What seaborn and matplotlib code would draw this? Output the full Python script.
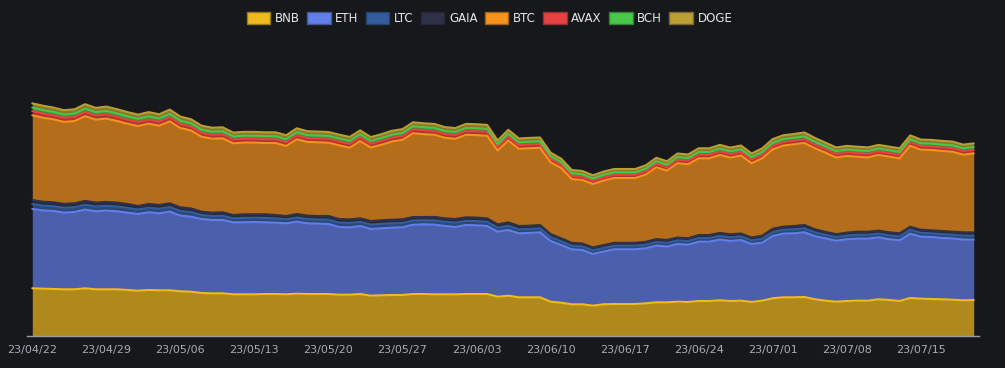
import matplotlib
matplotlib.use("Agg")
import numpy as np
import pandas as pd
import matplotlib.pyplot as plt
import seaborn as sns
from matplotlib.patches import Patch
from matplotlib.colors import to_rgb

# daily values, 2023-04-22 .. 2023-07-20 (arbitrary units)
dates = pd.date_range("2023-04-22", "2023-07-20", freq="D")

bnb = [47.2, 46.8, 46.5, 46.2, 46.2, 47.2, 46.2, 46.2, 46.2, 45.5, 44.8, 45.5, 45.2, 45.2, 44.2,
       43.8, 42.5, 42.2, 42.2, 41.2, 41.2, 41.2, 41.5, 41.5, 41.2, 41.8, 41.5, 41.5, 41.5, 40.8,
       40.8, 41.5, 39.8, 40.2, 40.5, 40.5, 41.5, 41.5, 41.2, 41.2, 41.2, 41.5, 41.5, 41.5, 38.8,
       39.8, 38.2, 38.2, 38.2, 33.8, 32.8, 31.2, 31.2, 29.8, 31.2, 31.5, 31.5, 31.5, 32.2, 33.2,
       33.2, 33.8, 33.5, 34.5, 34.5, 35.2, 34.5, 34.8, 33.5, 34.8, 37.2, 38.2, 38.2, 38.5, 36.2,
       34.8, 33.8, 34.5, 34.8, 34.8, 36.2, 35.5, 34.5, 37.5, 36.8, 36.5, 36.2, 35.8, 35.2, 35.5]

eth = [79.3, 78.3, 78.0, 76.7, 77.3, 78.7, 78.0, 78.7, 78.0, 77.3, 76.7, 77.7, 77.0, 78.7, 75.7,
       75.0, 74.0, 73.3, 73.3, 72.0, 72.0, 72.3, 71.7, 71.3, 71.0, 72.0, 70.7, 70.3, 70.0, 67.7,
       67.3, 68.0, 66.7, 67.0, 67.3, 67.7, 69.3, 69.7, 69.7, 68.3, 67.3, 69.0, 68.7, 68.0, 65.0,
       65.7, 64.0, 64.3, 65.0, 60.7, 57.7, 55.0, 54.3, 51.7, 52.7, 54.7, 54.7, 54.7, 55.0, 56.7,
       55.7, 57.7, 57.3, 59.3, 59.3, 60.7, 60.0, 60.7, 58.0, 58.0, 62.3, 63.7, 64.0, 64.7, 63.0,
       62.3, 61.0, 61.7, 62.0, 62.0, 62.0, 60.7, 60.7, 64.3, 62.0, 62.0, 61.3, 61.3, 60.7, 60.3]

ltc = [5.0, 4.8, 4.8, 4.8, 4.8, 4.8, 4.8, 4.8, 4.8, 4.8, 4.4, 4.6, 4.6, 4.6, 4.6,
       4.6, 4.0, 4.0, 4.2, 4.0, 4.4, 4.2, 4.4, 4.2, 4.0, 4.2, 4.2, 4.2, 4.4, 4.4,
       4.4, 4.2, 4.4, 4.4, 4.4, 4.4, 4.2, 4.0, 4.2, 4.2, 4.4, 4.2, 4.2, 4.2, 4.0,
       4.2, 4.0, 4.0, 4.0, 3.9, 3.7, 3.6, 3.6, 3.6, 3.6, 3.6, 3.6, 3.6, 3.6, 3.6,
       3.7, 3.6, 3.6, 3.7, 3.7, 3.7, 3.7, 3.6, 3.6, 3.9, 4.0, 3.9, 4.0, 4.0, 3.9,
       3.6, 3.6, 3.7, 3.9, 3.9, 3.7, 3.9, 3.9, 3.9, 3.9, 3.7, 3.9, 3.7, 4.0, 4.0]

gaia = [4.0, 3.9, 3.9, 3.9, 3.9, 3.9, 3.9, 3.9, 3.9, 3.9, 3.6, 3.7, 3.7, 3.7, 3.7,
        3.7, 3.3, 3.3, 3.5, 3.3, 3.6, 3.5, 3.6, 3.5, 3.3, 3.5, 3.5, 3.5, 3.6, 3.6,
        3.6, 3.5, 3.6, 3.6, 3.6, 3.6, 3.5, 3.3, 3.5, 3.5, 3.6, 3.5, 3.5, 3.5, 3.3,
        3.5, 3.3, 3.3, 3.3, 3.1, 3.0, 2.9, 2.9, 2.9, 2.9, 2.9, 2.9, 2.9, 2.9, 2.9,
        3.0, 2.9, 2.9, 3.0, 3.0, 3.0, 3.0, 2.9, 2.9, 3.1, 3.3, 3.1, 3.3, 3.3, 3.1,
        2.9, 2.9, 3.0, 3.1, 3.1, 3.0, 3.1, 3.1, 3.1, 3.1, 3.0, 3.1, 3.0, 3.3, 3.3]

btc = [84.7, 84.0, 83.0, 82.0, 82.3, 84.7, 83.0, 83.3, 81.7, 80.3, 80.0, 80.3, 79.3, 82.0, 79.3,
       78.0, 75.0, 74.0, 74.0, 71.7, 71.7, 71.7, 71.3, 72.0, 70.0, 74.7, 73.7, 73.7, 73.3, 73.7,
       71.7, 77.2, 73.5, 75.5, 78.2, 79.5, 83.8, 82.8, 82.2, 80.5, 80.2, 82.5, 82.5, 82.5, 73.8,
       81.8, 77.2, 77.5, 77.2, 71.7, 70.3, 63.8, 63.5, 63.5, 64.5, 64.8, 64.8, 64.8, 67.2, 71.8,
       69.3, 74.3, 74.0, 76.7, 76.7, 78.0, 76.7, 78.0, 74.3, 77.3, 79.3, 81.0, 81.7, 82.0, 81.0,
       79.2, 76.7, 76.7, 75.0, 74.3, 75.7, 75.7, 75.0, 81.0, 80.0, 80.3, 80.0, 80.0, 77.7, 79.0]

avax = [4.2, 4.2, 4.1, 4.1, 4.1, 4.2, 4.1, 4.2, 4.1, 4.0, 4.0, 4.0, 4.0, 4.1, 4.0,
        3.9, 3.9, 3.9, 3.9, 3.8, 3.8, 3.8, 3.8, 3.8, 3.8, 3.9, 3.8, 3.8, 3.8, 3.8,
        3.8, 3.8, 3.7, 3.8, 3.8, 3.8, 3.9, 3.9, 3.8, 3.8, 3.8, 3.9, 3.9, 3.9, 3.6,
        3.8, 3.6, 3.6, 3.6, 3.4, 3.3, 3.2, 3.2, 3.1, 3.2, 3.2, 3.2, 3.2, 3.3, 3.4,
        3.3, 3.4, 3.4, 3.5, 3.5, 3.5, 3.5, 3.5, 3.4, 3.5, 3.6, 3.6, 3.6, 3.7, 3.6,
        3.5, 3.5, 3.5, 3.5, 3.5, 3.5, 3.5, 3.5, 3.6, 3.6, 3.6, 3.6, 3.6, 3.5, 3.5]

bch = [3.4, 3.4, 3.3, 3.3, 3.3, 3.4, 3.3, 3.4, 3.3, 3.3, 3.2, 3.3, 3.2, 3.3, 3.2,
       3.2, 3.1, 3.1, 3.1, 3.0, 3.0, 3.0, 3.0, 3.0, 3.0, 3.1, 3.0, 3.0, 3.0, 3.0,
       3.0, 3.0, 2.9, 2.9, 3.0, 3.0, 3.0, 3.0, 3.0, 3.0, 3.0, 3.0, 3.0, 3.0, 2.8,
       3.0, 2.9, 2.9, 2.9, 2.7, 2.6, 2.5, 2.5, 2.4, 2.5, 2.5, 2.5, 2.5, 2.6, 2.6,
       2.6, 2.7, 2.7, 2.8, 2.8, 2.8, 2.8, 2.8, 2.7, 2.8, 2.9, 2.9, 2.9, 2.9, 2.9,
       2.8, 2.8, 2.8, 2.8, 2.8, 2.8, 2.8, 2.8, 2.9, 2.8, 2.8, 2.8, 2.8, 2.8, 2.8]

doge = [4.4, 4.4, 4.3, 4.3, 4.3, 4.4, 4.3, 4.4, 4.3, 4.3, 4.2, 4.3, 4.2, 4.3, 4.2,
        4.1, 4.0, 4.0, 4.0, 3.9, 3.9, 3.9, 3.9, 3.9, 3.9, 4.0, 3.9, 3.9, 3.9, 3.9,
        3.9, 3.9, 3.8, 3.9, 3.9, 3.9, 4.0, 4.0, 4.0, 3.9, 3.9, 4.0, 4.0, 4.0, 3.7,
        3.9, 3.8, 3.8, 3.8, 3.5, 3.4, 3.3, 3.3, 3.2, 3.3, 3.3, 3.3, 3.3, 3.4, 3.5,
        3.4, 3.6, 3.6, 3.7, 3.7, 3.7, 3.7, 3.7, 3.6, 3.7, 3.8, 3.8, 3.8, 3.9, 3.8,
        3.7, 3.7, 3.7, 3.7, 3.7, 3.7, 3.7, 3.7, 3.8, 3.7, 3.7, 3.7, 3.7, 3.7, 3.7]

series_names = ["BNB", "ETH", "LTC", "GAIA", "BTC", "AVAX", "BCH", "DOGE"]
colors = {
    "BNB": "#F0BA1C",
    "ETH": "#627EEA",
    "LTC": "#345D9D",
    "GAIA": "#2E3148",
    "BTC": "#F7931A",
    "AVAX": "#E84142",
    "BCH": "#48C848",
    "DOGE": "#BA9F33",
}

bg = "#17181c"
axis_color = "#9a9ca3"
label_color = "#a9abb1"

sns.set_theme(style="dark", rc={
    "axes.facecolor": bg,
    "figure.facecolor": bg,
    "text.color": "#e6e6e6",
    "xtick.color": axis_color,
    "ytick.color": axis_color,
})
plt.rcParams["font.family"] = ["DejaVu Sans"]

df = pd.DataFrame({"BNB": bnb, "ETH": eth, "LTC": ltc, "GAIA": gaia,
                   "BTC": btc, "AVAX": avax, "BCH": bch, "DOGE": doge}, index=dates)

fig = plt.figure(figsize=(10.05, 3.68), dpi=100, facecolor=bg)
ax = fig.add_axes([27 / 1005, 32.5 / 368, 952 / 1005, 275.5 / 368])
ax.set_facecolor(bg)

x = np.arange(len(df))
lower = np.zeros(len(df))
tops = {}
alpha = 0.7


def blend(c, a=alpha):
    r, g, b = to_rgb(c)
    br, bgc, bb = to_rgb(bg)
    return (a * r + (1 - a) * br, a * g + (1 - a) * bgc, a * b + (1 - a) * bb)


# stacked areas
for name in series_names:
    upper = lower + df[name].values
    ax.fill_between(x, lower, upper, color=blend(colors[name]), linewidth=0, zorder=2)
    tops[name] = upper
    lower = upper

# top edge line of each area
for name in series_names:
    sns.lineplot(x=x, y=tops[name], ax=ax, color=colors[name], linewidth=1.5, zorder=3)

ax.set_xlim(-0.5, len(df) - 0.5)
ax.set_ylim(0, 275.5)
ax.set_ylabel("")
ax.set_yticks([])

# ticks at category boundaries, labels on the data points
bounds = list(np.arange(-0.5, len(df), 7)) + [len(df) - 0.5]
ax.set_xticks(bounds)
ax.set_xticklabels([])
ax.tick_params(axis="x", which="major", length=5, width=1, color=axis_color, direction="out")
label_pos = np.arange(0, len(df), 7)
ax.set_xticks(label_pos, minor=True)
ax.set_xticklabels([d.strftime("%y/%m/%d") for d in df.index[label_pos]], minor=True)
ax.tick_params(axis="x", which="minor", length=0, pad=7, labelsize=8, labelcolor=label_color)

for spine in ["top", "right", "left"]:
    ax.spines[spine].set_visible(False)
ax.spines["bottom"].set_color(axis_color)
ax.spines["bottom"].set_linewidth(1)
ax.grid(False)

handles = [Patch(facecolor=colors[n], edgecolor=blend(colors[n], 0.6), linewidth=1) for n in series_names]
fig.legend(handles, series_names, loc="center", bbox_to_anchor=(489.5 / 1005, 1 - 18.5 / 368),
           ncol=8, frameon=False, fontsize=8.5, handlelength=2.0, handleheight=1.1,
           handletextpad=0.4, columnspacing=0.6, labelcolor="#e6e6e6")

fig.savefig("out.png", dpi=100, facecolor=bg)
